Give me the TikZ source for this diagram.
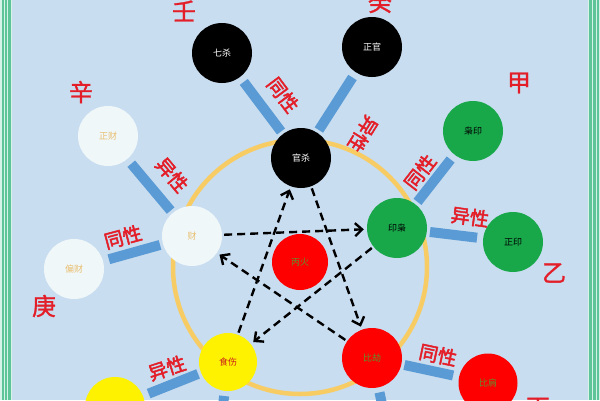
\documentclass[tikz,border=0pt]{standalone}
\usepackage{fontspec}
\newfontfamily\cjk[AutoFakeBold=2.5]{Noto Sans CJK SC}
\newfontfamily\cjkstem[AutoFakeBold=1.2]{Noto Sans CJK SC}
\usetikzlibrary{arrows.meta}
\definecolor{bgblue}{RGB}{200,221,240}
\definecolor{stripegreen}{RGB}{95,196,152}
\definecolor{stripelight}{RGB}{215,242,230}
\definecolor{barblue}{RGB}{91,155,213}
\definecolor{ringorange}{RGB}{248,204,100}
\definecolor{nodewhite}{RGB}{240,247,249}
\definecolor{fadeorange}{RGB}{232,190,110}
\definecolor{nodegreen}{RGB}{24,168,74}
\definecolor{olivetext}{RGB}{95,145,45}
\definecolor{darkred}{RGB}{200,30,30}
\definecolor{labelred}{RGB}{228,30,40}
\tikzset{
  ball/.style={circle, minimum size=60pt, inner sep=0pt, font=\cjk\fontsize{9}{9}\selectfont},
  blackball/.style={ball, fill=black, text=white},
  whiteball/.style={ball, fill=nodewhite, text=fadeorange},
  greenball/.style={ball, fill=nodegreen, text=black},
  redball/.style={ball, fill=red, text=olivetext},
  yellowball/.style={ball, fill=yellow, text=darkred},
  linkbar/.style={draw=barblue, line width=10pt, shorten <=6pt, shorten >=3pt},
  rellabel/.style={text=labelred, font=\cjk\bfseries\fontsize{19}{19}\selectfont, inner sep=0pt},
  stemlabel/.style={text=labelred, font=\cjkstem\bfseries\fontsize{24}{24}\selectfont, inner sep=0pt},
  dasharrow/.style={draw=black, line width=2.4pt, dash pattern=on 8pt off 5pt,
    -{Straight Barb[length=7pt,width=13pt]}, shorten <=2pt, shorten >=3pt}
}
\begin{document}
\begin{tikzpicture}[x=1pt,y=-1pt]
\useasboundingbox (0,0) rectangle (600,400);
\clip (0,0) rectangle (600,400);
\fill[bgblue] (0,0) rectangle (600,400);
% side stripes
\fill[stripelight] (0,0) rectangle (12,400);
\fill[stripegreen] (1.5,0) rectangle (3.5,400);
\fill[stripegreen] (4.5,0) rectangle (7,400);
\fill[stripegreen] (8,0) rectangle (11,400);
\fill[stripelight] (588,0) rectangle (600,400);
\fill[stripegreen] (589,0) rectangle (592,400);
\fill[stripegreen] (593,0) rectangle (595.5,400);
\fill[stripegreen] (596.5,0) rectangle (598.5,400);
% ring
\draw[ringorange, line width=4.5pt] (300,267) circle[radius=127pt];

% nodes
\node[blackball] (qisha) at (222,53) {七杀};
\node[blackball] (zhengguan) at (372,47) {正官};
\node[blackball] (guansha) at (301,158) {官杀};
\node[whiteball] (zhengcai) at (108,136) {正财};
\node[whiteball] (cai) at (192,236) {财};
\node[whiteball] (piancai) at (74,269) {偏财};
\node[greenball] (xiaoyin) at (473,131) {枭印};
\node[greenball] (yinxiao) at (397,228) {印枭};
\node[greenball] (zhengyin) at (513,242) {正印};
\node[redball, minimum size=56pt] (binghuo) at (300,262) {丙火};
\node[yellowball, minimum size=58pt] (shishang) at (228,362) {食伤};
\node[yellowball] (yellowtwo) at (115,407) {};
\node[redball] (bijie) at (372,358) {比劫};
\node[redball, minimum size=59pt] (bijian) at (488,383) {比肩};
\coordinate (shishangdown) at (218,450);
\coordinate (bijiedown) at (392,450);

% bars
\draw[linkbar] (qisha) -- (guansha);
\draw[linkbar] (zhengguan) -- (guansha);
\draw[linkbar] (zhengcai) -- (cai);
\draw[linkbar] (piancai) -- (cai);
\draw[linkbar] (xiaoyin) -- (yinxiao);
\draw[linkbar] (zhengyin) -- (yinxiao);
\draw[linkbar] (yellowtwo) -- (shishang);
\draw[linkbar] (bijian) -- (bijie);
\draw[linkbar, shorten <=5pt] (shishang) -- (shishangdown);
\draw[linkbar, shorten <=5pt] (bijie) -- (bijiedown);

% relation labels
\node[rellabel, rotate=-53] (l1) at (283,95) {同性};
\node[rellabel, rotate=-122] (l2) at (363,134) {异性};
\node[rellabel, rotate=-50] (l3) at (172,175) {异性};
\node[rellabel, rotate=15] (l4) at (123,237) {同性};
\node[rellabel, rotate=52] (l5) at (420,172) {同性};
\node[rellabel, rotate=-8] (l6) at (470,217) {异性};
\node[rellabel, rotate=18] (l7) at (167,368) {异性};
\node[rellabel, rotate=-12] (l8) at (438,355) {同性};

% stem labels
\node[stemlabel] (ren) at (184,11) {壬};
\node[stemlabel] (gui) at (380,2) {癸};
\node[stemlabel] (xin) at (81,92) {辛};
\node[stemlabel] (geng) at (44,306) {庚};
\node[stemlabel] (jia) at (519,83) {甲};
\node[stemlabel] (yi) at (554,273) {乙};
\node[stemlabel] (bing) at (538,408) {丙};

% star arrows
\draw[dasharrow] (cai) -- (yinxiao);
\draw[dasharrow] (yinxiao) -- (shishang);
\draw[dasharrow] (guansha) -- (bijie);
\draw[dasharrow] (bijie) -- (cai);
\draw[dasharrow] (shishang) -- (guansha);
\end{tikzpicture}
\end{document}
